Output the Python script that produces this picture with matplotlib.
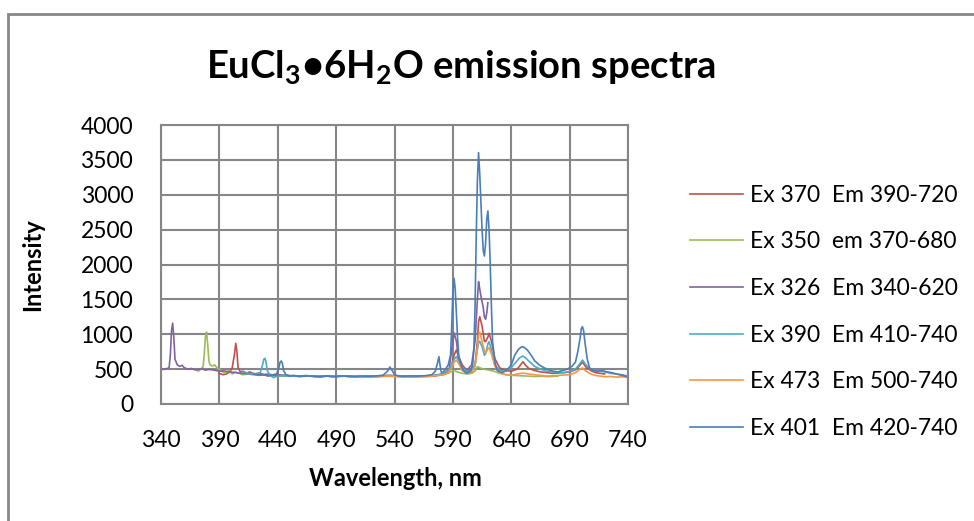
import matplotlib
matplotlib.use("Agg")
import matplotlib.pyplot as plt
from matplotlib.patches import Rectangle

# ================ 基础设置 ================
plt.rcParams['font.family'] = ['Lato', 'DejaVu Sans']
plt.rcParams['mathtext.fontset'] = 'custom'
plt.rcParams['mathtext.rm'] = 'Lato'
plt.rcParams['mathtext.bf'] = 'Lato:bold'

TITLE = r"EuCl$_\mathbf{3}$•6H$_\mathbf{2}$O emission spectra"
TITLE_X = "Wavelength, nm"
TITLE_Y = "Intensity"
SCALE_X = [340, 390, 440, 490, 540, 590, 640, 690, 740]
SCALE_Y = [0, 500, 1000, 1500, 2000, 2500, 3000, 3500, 4000]
GRID_COLOR = "#868686"

# ================ 数据设置 ================
# Ex 370  Em 390-720
red_wl = [390, 393, 396, 399, 401, 403, 404, 405, 406, 408, 410, 413, 416, 420, 424, 428, 432, 436, 440,
          446, 452, 458, 464, 470, 476, 482, 488, 494, 500, 506, 512, 518, 524, 530, 536, 542, 548, 554,
          560, 566, 572, 577, 582, 586, 589, 591, 593, 595, 598, 602, 606, 609, 611, 612, 613, 615, 617,
          618, 620, 621, 623, 626, 630, 635, 640, 645, 648, 650, 652, 655, 660, 665, 670, 675, 680, 685,
          690, 695, 698, 701, 704, 708, 712, 716, 720]
red_val = [440, 420, 430, 460, 520, 720, 870, 760, 520, 460, 470, 440, 460, 430, 445, 420, 430, 415, 420,
           410, 405, 400, 398, 405, 395, 400, 392, 398, 402, 396, 400, 390, 395, 400, 398, 402, 396, 400,
           395, 398, 405, 415, 430, 470, 560, 700, 774, 680, 560, 480, 470, 560, 900, 1180, 1252, 1120, 900,
           894, 960, 1013, 900, 650, 520, 480, 470, 500, 560, 607, 560, 510, 480, 460, 450, 440, 445, 450,
           460, 490, 540, 600, 530, 480, 450, 440, 430]

# Ex 350  em 370-680
green_wl = [370, 372, 374, 376, 377, 378, 379, 380, 381, 382, 384, 386, 388, 390, 392, 395, 398, 401, 404,
            407, 410, 415, 420, 425, 430, 436, 442, 448, 454, 460, 466, 472, 478, 484, 490, 496, 502, 508,
            514, 520, 526, 532, 538, 544, 550, 556, 562, 568, 574, 578, 582, 586, 589, 591, 594, 598, 602,
            606, 609, 611, 613, 616, 620, 625, 630, 636, 642, 648, 654, 660, 666, 672, 680]
green_val = [490, 470, 500, 530, 700, 960, 1032, 850, 620, 560, 545, 560, 520, 500, 470, 440, 480, 430, 460,
             440, 420, 430, 415, 420, 410, 405, 400, 398, 405, 395, 400, 392, 398, 402, 396, 400, 390, 395,
             400, 396, 402, 398, 405, 400, 395, 390, 398, 392, 400, 410, 420, 440, 470, 480, 460, 440, 430,
             440, 470, 535, 520, 500, 490, 470, 440, 420, 410, 405, 400, 395, 398, 392, 400]

# Ex 326  Em 340-620
purple_wl = [340, 342, 344, 346, 347, 348, 349, 350, 351, 352, 354, 356, 358, 360, 363, 366, 369, 372, 375,
             378, 381, 384, 387, 390, 394, 398, 402, 406, 410, 415, 420, 425, 430, 435, 440, 446, 452, 458,
             464, 470, 476, 482, 488, 494, 500, 506, 512, 518, 524, 530, 536, 542, 548, 554, 560, 566, 572,
             576, 580, 584, 587, 589, 591, 593, 595, 598, 602, 606, 609, 611, 612, 613, 614, 616, 617, 618,
             619, 620]
purple_val = [500, 495, 505, 510, 530, 700, 1050, 1160, 950, 640, 560, 540, 555, 520, 500, 510, 490, 495, 505,
              485, 495, 490, 480, 470, 475, 460, 455, 445, 440, 435, 430, 425, 420, 418, 412, 410, 405, 400,
              408, 398, 395, 402, 392, 398, 400, 395, 390, 398, 402, 408, 412, 400, 395, 392, 395, 398, 402,
              410, 420, 450, 520, 780, 1020, 900, 620, 500, 480, 560, 900, 1500, 1754, 1650, 1550, 1380, 1250,
              1214, 1300, 1453]

# Ex 390  Em 410-740
teal_wl = [410, 413, 416, 419, 422, 425, 427, 428, 429, 430, 431, 433, 436, 440, 444, 448, 452, 458, 464,
           470, 476, 482, 488, 494, 500, 506, 512, 518, 524, 530, 536, 542, 548, 554, 560, 566, 572, 577,
           582, 586, 589, 591, 593, 595, 598, 602, 606, 609, 611, 612, 613, 615, 617, 618, 620, 621, 623,
           626, 630, 635, 640, 644, 647, 650, 653, 656, 660, 665, 670, 675, 680, 685, 690, 695, 698, 701,
           704, 708, 712, 716, 720, 725, 730, 735, 740]
teal_val = [470, 450, 430, 440, 420, 450, 560, 640, 655, 600, 480, 420, 380, 400, 410, 405, 400, 395, 402,
            398, 390, 400, 395, 402, 398, 392, 400, 396, 402, 398, 405, 400, 395, 398, 402, 400, 405, 420,
            440, 480, 560, 640, 680, 620, 520, 470, 480, 560, 780, 880, 900, 820, 700, 720, 860, 894, 780,
            560, 480, 470, 520, 600, 660, 688, 650, 600, 540, 500, 470, 460, 455, 450, 465, 500, 560, 631,
            560, 500, 480, 470, 460, 440, 430, 420, 400]

# Ex 473  Em 500-740
orange_wl = [500, 506, 512, 518, 524, 530, 536, 542, 548, 554, 560, 566, 572, 577, 582, 586, 589, 591, 593,
             595, 598, 602, 606, 609, 611, 612, 613, 615, 617, 618, 620, 621, 623, 626, 630, 635, 640, 645,
             650, 655, 660, 665, 670, 675, 680, 685, 690, 695, 698, 701, 704, 708, 712, 716, 720, 725, 730,
             735, 740]
orange_val = [390, 395, 380, 392, 385, 395, 400, 390, 385, 392, 388, 395, 400, 410, 420, 450, 520, 600, 630,
              580, 480, 440, 450, 540, 820, 990, 1028, 900, 760, 730, 790, 808, 720, 540, 450, 420, 410, 430,
              444, 430, 420, 410, 400, 405, 410, 415, 420, 450, 490, 516, 470, 430, 410, 400, 390, 395, 385,
              390, 380]

# Ex 401  Em 420-740
blue_wl = [420, 424, 428, 432, 436, 439, 441, 442, 443, 444, 445, 447, 450, 454, 458, 464, 470, 476, 482,
           488, 494, 500, 506, 512, 518, 524, 530, 534, 536, 538, 540, 544, 548, 554, 560, 566, 572, 575,
           577, 578, 579, 580, 581, 583, 586, 588, 589, 590, 591, 592, 593, 594, 595, 597, 599, 602, 605,
           607, 608, 609, 610, 611, 612, 613, 614, 615, 616, 617, 618, 619, 620, 621, 622, 623, 624, 626,
           628, 632, 636, 640, 643, 646, 648, 650, 652, 654, 657, 660, 664, 668, 672, 676, 680, 684, 688,
           692, 695, 697, 699, 700, 701, 702, 703, 705, 707, 710, 714, 718, 722, 726, 730, 735, 740]
blue_val = [430, 410, 420, 400, 420, 430, 520, 600, 617, 580, 480, 420, 400, 410, 395, 402, 398, 390, 400,
            395, 402, 398, 392, 400, 396, 402, 410, 470, 530, 480, 420, 400, 398, 402, 400, 405, 420, 470,
            600, 679, 560, 460, 450, 480, 560, 700, 1100, 1600, 1802, 1650, 1300, 950, 700, 560, 480, 440, 470,
            560, 800, 1400, 2400, 3200, 3604, 3300, 2900, 2500, 2200, 2122, 2300, 2650, 2768, 2500, 2000, 1400,
            900, 600, 480, 450, 480, 560, 700, 780, 810, 822, 800, 770, 700, 620, 560, 520, 490, 470, 460, 480,
            500, 540, 600, 750, 950, 1080, 1109, 1050, 900, 650, 520, 480, 470, 480, 460, 450, 430, 410, 390]

SERIES = [
    (red_wl, red_val, "#C0504D", "Ex 370  Em 390-720"),
    (green_wl, green_val, "#9BBB59", "Ex 350  em 370-680"),
    (purple_wl, purple_val, "#8064A2", "Ex 326  Em 340-620"),
    (teal_wl, teal_val, "#4BACC6", "Ex 390  Em 410-740"),
    (orange_wl, orange_val, "#F79646", "Ex 473  Em 500-740"),
    (blue_wl, blue_val, "#4A7EBB", "Ex 401  Em 420-740"),
]

if __name__ == '__main__':
    fig = plt.figure(figsize=(9.74, 5.21), dpi=100)
    ax = fig.add_axes([161 / 974, 1 - 404 / 521, 467 / 974, 279 / 521])

    # 外框
    fig.patches.append(Rectangle((8 / 974, -0.1), 1.2, 1 - 14 / 521 + 0.1, transform=fig.transFigure,
                                 fill=False, edgecolor="#878787", linewidth=2))

    for wl, val, color, label in SERIES:
        ax.plot(wl, val, color=color, linewidth=1.2, label=label)

    ax.set_xlim(340, 740)
    ax.set_ylim(0, 4000)
    ax.set_xticks(SCALE_X)
    ax.set_yticks(SCALE_Y)
    ax.tick_params(length=0, labelsize=16.5, colors="black")
    ax.tick_params(axis='x', pad=19)
    ax.tick_params(axis='y', pad=20)
    ax.grid(True, color=GRID_COLOR, linewidth=1.5)
    ax.set_axisbelow(True)
    for key in ['top', 'bottom', 'left', 'right']:
        ax.spines[key].set_color(GRID_COLOR)
        ax.spines[key].set_linewidth(1.5)

    fig.text(461 / 974, 1 - 68 / 521, TITLE, fontsize=27.5, fontweight='bold', ha='center', va='center')
    fig.text(395 / 974, 1 - 479 / 521, TITLE_X, fontsize=17, fontweight='bold', ha='center', va='center')
    fig.text(33 / 974, 1 - 265 / 521, TITLE_Y, fontsize=17, fontweight='bold', ha='center', va='center',
             rotation=90)

    ax.legend(loc='center left', bbox_to_anchor=(690 / 974, 1 - 312 / 521), bbox_transform=fig.transFigure,
              frameon=False, fontsize=16.5, handlelength=2.3, handletextpad=0.3, labelspacing=1.12,
              borderpad=0, borderaxespad=0)

    plt.savefig("out.png", dpi=100)
